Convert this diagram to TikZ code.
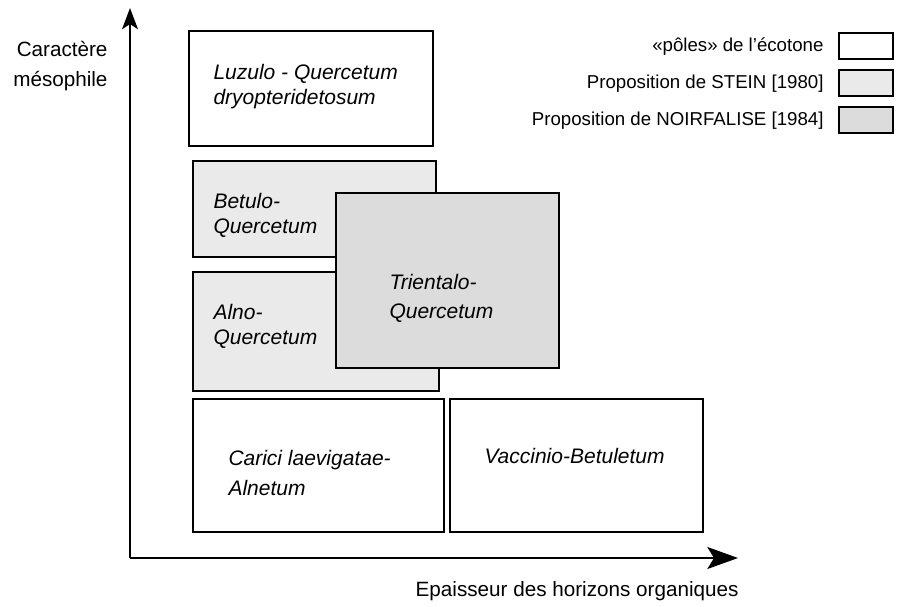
\documentclass[tikz,border=0pt]{standalone}
\usepackage{fontspec}
\setmainfont{Liberation Sans}
\usetikzlibrary{arrows.meta}

\definecolor{steingrey}{RGB}{234,234,234}
\definecolor{noirgrey}{RGB}{220,220,220}

\tikzset{every picture/.style={line width=0.75pt}}
\tikzset{
  polebox/.style={draw, line width=1.9pt, fill=white},
  steinbox/.style={polebox, fill=steingrey},
  noirbox/.style={polebox, fill=noirgrey},
  axisline/.style={line width=1.5pt},
  assotext/.style={font=\fontsize{15.75}{18.75}\selectfont\itshape, align=left, anchor=west, inner sep=0pt},
  axistext/.style={font=\fontsize{15.5}{22.5}\selectfont, inner sep=0pt},
  legtext/.style={font=\fontsize{14}{16}\selectfont, anchor=east, inner sep=0pt},
}

\begin{document}
\begin{tikzpicture}[x=0.75pt,y=0.75pt,yscale=-1,xscale=1]
\useasboundingbox (0,0) rectangle (900,607);

%Axes
\coordinate (origin) at (130,558);
\coordinate (ytip) at (130,8);
\coordinate (xtip) at (738,558);
\draw [axisline, -{Stealth[length=16pt,width=12pt,inset=4pt]}] (origin) -- (ytip);
\draw [axisline, -{Stealth[length=23pt,width=16.5pt,inset=5pt]}] (origin) -- (xtip);

%Shape: Rectangle
\draw [polebox] (189,31) rectangle (433,146);
%Shape: Rectangle
\draw [steinbox] (193,161) rectangle (436,257);
%Shape: Rectangle
\draw [steinbox] (193,272) rectangle (439,391);
%Shape: Rectangle
\draw [noirbox] (336,193) rectangle (559,368);
%Shape: Rectangle
\draw [polebox] (193,399) rectangle (444,532);
%Shape: Rectangle
\draw [polebox] (450,399) rectangle (703,532);

% Text Node
\node [assotext] (luzulo) at (213,86.5) {Luzulo - Quercetum\\dryopteridetosum};
% Text Node
\node [assotext] (betulo) at (213,215) {Betulo-\\Quercetum};
% Text Node
\node [assotext] (alno) at (213,326.5) {Alno-\\Quercetum};
% Text Node
\node [assotext] (trientalo) at (389,298.5) {Trientalo-\\[3pt]Quercetum};
% Text Node
\node [assotext] (carici) at (228,473) {Carici laevigatae-\\[3.75pt]Alnetum};
% Text Node
\node [assotext] (vaccinio) at (484,456) {Vaccinio-Betuletum};

% Text Node
\node [axistext, align=right, anchor=east] (ylabel) at (108,66) {Caractère\\mésophile};
% Text Node
\node [axistext, anchor=east] (xlabel) at (739,591) {Epaisseur des horizons organiques};

%Legend
\draw [polebox] (839,33) rectangle (893,59);
\draw [steinbox] (839,70) rectangle (893,96);
\draw [noirbox] (839,107) rectangle (893,133);
\node [legtext] (legpole) at (824,47) {«pôles» de l’écotone};
\node [legtext] (legstein) at (824,84) {Proposition de STEIN [1980]};
\node [legtext] (legnoir) at (824,121) {Proposition de NOIRFALISE [1984]};

\end{tikzpicture}
\end{document}
